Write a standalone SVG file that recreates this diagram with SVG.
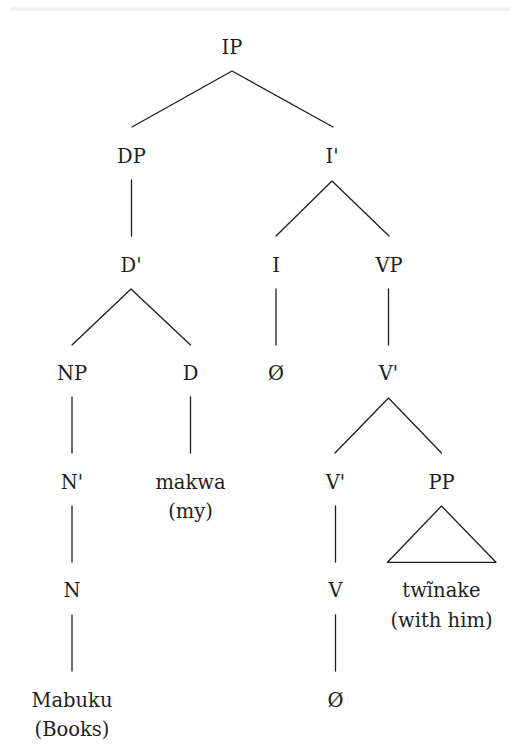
<svg xmlns="http://www.w3.org/2000/svg" width="510" height="754" viewBox="0 0 510 754">
  <style>
    text { font-family: "DejaVu Serif", "Liberation Serif", serif; font-size: 19.5px; fill: #1e1e1e; text-anchor: middle; }
    .edge { stroke: #1e1e1e; stroke-width: 1.3; fill: none; stroke-linecap: round; stroke-linejoin: round; }
  </style>
  <rect width="510" height="754" fill="#ffffff"/>
  <rect x="11" y="7" width="499" height="4" fill="#f3f3f3"/>

  <!-- branches -->
  <g id="connectors">
    <polyline class="edge" points="132,127 232,71 333,127"/>
    <line class="edge" x1="131.5" y1="180" x2="131.5" y2="236"/>
    <polyline class="edge" points="276,236 332,181 389,236"/>
    <polyline class="edge" points="72,345 131,289 190.5,345"/>
    <line class="edge" x1="276" y1="289" x2="276" y2="345"/>
    <line class="edge" x1="388.5" y1="289" x2="388.5" y2="345"/>
    <line class="edge" x1="72" y1="397" x2="72" y2="453"/>
    <line class="edge" x1="190.5" y1="397" x2="190.5" y2="453"/>
    <polyline class="edge" points="335,453 388.5,398 441.5,453"/>
    <line class="edge" x1="72" y1="506" x2="72" y2="562"/>
    <line class="edge" x1="335.5" y1="506" x2="335.5" y2="562"/>
    <polygon class="edge" points="441.5,506 387.5,562.3 496,562.3"/>
    <line class="edge" x1="72" y1="615" x2="72" y2="671"/>
    <line class="edge" x1="335.5" y1="615" x2="335.5" y2="671"/>
  </g>

  <!-- nodes -->
  <g id="n-ip"><text x="232" y="54">IP</text></g>
  <g id="n-dp"><text x="131.5" y="163">DP</text></g>
  <g id="n-ibar"><text x="332" y="163">I'</text></g>
  <g id="n-dbar"><text x="131" y="272">D'</text></g>
  <g id="n-i"><text x="276" y="272">I</text></g>
  <g id="n-vp"><text x="389" y="272">VP</text></g>
  <g id="n-np"><text x="72" y="380">NP</text></g>
  <g id="n-d"><text x="190.5" y="380">D</text></g>
  <g id="n-i-null"><text x="276" y="380">Ø</text></g>
  <g id="n-vbar"><text x="388.5" y="380">V'</text></g>
  <g id="n-nbar"><text x="72" y="489">N'</text></g>
  <g id="n-makwa"><text x="190.5" y="489">makwa</text><text x="190.5" y="518">(my)</text></g>
  <g id="n-vbar2"><text x="335.5" y="489">V'</text></g>
  <g id="n-pp"><text x="441.5" y="489">PP</text></g>
  <g id="n-n"><text x="72" y="597">N</text></g>
  <g id="n-v"><text x="335.5" y="597">V</text></g>
  <g id="n-twinake"><text x="441.5" y="597">twĩnake</text><text x="441.5" y="627">(with him)</text></g>
  <g id="n-mabuku"><text x="72" y="707">Mabuku</text><text x="72" y="736">(Books)</text></g>
  <g id="n-v-null"><text x="335.5" y="707">Ø</text></g>
</svg>
